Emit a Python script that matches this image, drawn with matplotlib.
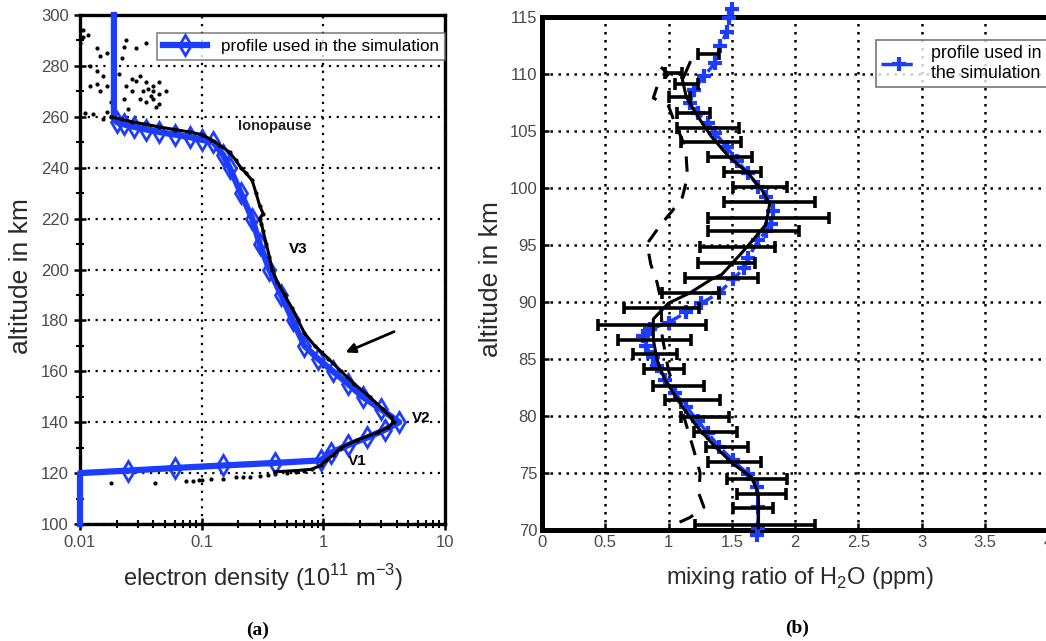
import matplotlib
matplotlib.use("Agg")
import matplotlib.pyplot as plt
import numpy as np

plt.rcParams["font.family"] = ["Liberation Sans", "DejaVu Sans"]
plt.rcParams["mathtext.fontset"] = "custom"
plt.rcParams["mathtext.rm"] = "Liberation Sans"

# ---- panel (a): electron density ----
# simulation profile (blue)
ne_alt = [100, 120, 121, 122, 123, 124, 125, 128, 131, 134, 137, 140, 145, 150, 155, 160,
          165, 170, 180, 190, 200, 210, 220, 230, 240, 245, 250, 251, 252, 253, 254, 255,
          256, 257, 258, 260, 300]
ne_prof = [0.01, 0.01, 0.025, 0.06, 0.15, 0.4, 0.95, 1.15, 1.6, 2.3, 3.2, 4.2, 3.0, 2.1, 1.6, 1.2,
           0.9, 0.7, 0.56, 0.45, 0.36, 0.3, 0.26, 0.21, 0.17, 0.15, 0.125, 0.1, 0.08, 0.06, 0.045, 0.035,
           0.028, 0.023, 0.02, 0.019, 0.019]

# measured profile (black)
meas_alt = [120.5, 121, 121.5, 123, 125, 127, 130, 133, 136, 138, 140, 142, 145, 150, 155, 160,
            165, 170, 175, 180, 185, 190, 195, 200, 205, 210, 215, 218, 220, 222, 225, 230,
            235, 238, 240, 243, 246, 249, 251, 253, 254, 255, 256, 257, 258, 259, 260]
meas_ne = [0.4, 0.6, 0.8, 0.95, 1.05, 1.2, 1.4, 1.9, 2.8, 3.4, 3.8, 3.6, 3.1, 2.4, 1.8, 1.4,
           1.1, 0.85, 0.7, 0.62, 0.55, 0.48, 0.42, 0.38, 0.36, 0.34, 0.32, 0.31, 0.3, 0.32, 0.3, 0.28,
           0.26, 0.23, 0.21, 0.19, 0.17, 0.14, 0.12, 0.1, 0.08, 0.06, 0.045, 0.035, 0.027, 0.022, 0.018]

low_alt = [116, 116.2, 117, 117, 117.2, 117.3, 117.5, 117.8, 118.3, 118.4, 118.5, 119, 119.3,
           119.6, 120, 120.3, 120.7]
low_ne = [0.018, 0.041, 0.075, 0.085, 0.095, 0.1, 0.12, 0.15, 0.19, 0.22, 0.25, 0.3, 0.35,
          0.4, 0.5, 0.6, 0.7]

top_alt = [291.5, 292, 289, 287, 284, 285, 287.5, 290, 289, 287, 278, 272, 273, 276, 272, 270,
           275, 276, 273.5, 272, 273.5, 272, 270, 270, 270, 269, 270, 267, 266, 267, 265, 267,
           261.5, 261, 259, 262, 280, 294, 283, 266, 268, 271, 274, 277, 264, 263]
top_ne = [0.0106, 0.0116, 0.0100, 0.0137, 0.0146, 0.0166, 0.023, 0.024, 0.035, 0.029, 0.0137, 0.012,
          0.0137, 0.0155, 0.0166, 0.0146, 0.027, 0.031, 0.035, 0.040, 0.045, 0.024, 0.027, 0.033,
          0.040, 0.045, 0.051, 0.031, 0.035, 0.040, 0.045, 0.023, 0.011, 0.0128, 0.0155, 0.0166,
          0.012, 0.0105, 0.022, 0.018, 0.038, 0.036, 0.029, 0.021, 0.042, 0.025]

# ---- panel (b): H2O mixing ratio ----
sim_alt = [115.7, 114.9, 113.7, 112.5, 111, 109.8, 108.6, 107.5, 106.6, 105.7, 104.8, 103.6, 102.4,
           101.3, 100.1, 99.2, 98, 96.8, 96.2, 95.4, 93.9, 93, 92, 90.8, 89.9, 89.1, 88.2, 87.6, 87,
           86.1, 85.2, 84.4, 83.2, 82, 80.8, 79.6, 78.5, 77.3, 76.1, 74.9, 73.8, 72, 70.2, 69.6]
sim_h2o = [1.50, 1.48, 1.46, 1.41, 1.37, 1.28, 1.20, 1.17, 1.23, 1.31, 1.37, 1.46, 1.54,
           1.63, 1.71, 1.77, 1.83, 1.81, 1.77, 1.71, 1.63, 1.60, 1.51, 1.40, 1.26, 1.14, 1.0, 0.85, 0.80,
           0.82, 0.88, 0.91, 0.97, 1.05, 1.14, 1.23, 1.31, 1.40, 1.51, 1.63, 1.70, 1.71, 1.71, 1.70]

mean_alt = [111, 109.5, 108, 106.3, 104.5, 102.7, 101.3, 99.8, 98.6, 96.8, 95.6, 94.2, 92.4, 92,
            90.8, 89.9, 88.5, 86.7, 84.9, 83.2, 80.8, 79, 77.3, 75.8, 74.6, 73.2, 70.2]
mean_h2o = [1.17, 1.11, 1.14, 1.23, 1.34, 1.48, 1.63, 1.74, 1.80, 1.77, 1.68, 1.57, 1.42, 1.34,
            1.17, 1.00, 0.88, 0.88, 0.91, 0.97, 1.11, 1.23, 1.37, 1.51, 1.66, 1.71, 1.71]

dash_alt = [110.6, 110, 108.9, 107.9, 107.2, 105.7, 104.2, 102.7, 101, 99.2, 98, 96.8, 95.1, 93.3,
            91.7, 90.2, 87, 84, 80, 77, 75, 73.2, 72, 71.1, 70.5, 70.2]
dash_h2o = [0.94, 1.0, 0.91, 0.88, 1.0, 1.05, 1.11, 1.14, 1.15, 1.11, 1.03, 0.94, 0.83, 0.86,
            0.91, 0.94, 0.95, 1.0, 1.12, 1.2, 1.25, 1.24, 1.28, 1.17, 1.05, 1.0]

bar_alt = [111.75, 110.1, 109.1, 108, 106.6, 105.3, 104, 102.7, 101.4, 100.1, 98.8, 97.4, 96.2,
           94.8, 93.4, 92.1, 90.8, 89.5, 88.0, 86.7, 85.4, 84.1, 82.6, 81.4, 79.9, 78.6, 77.3,
           76.0, 74.5, 73.2, 71.9, 70.4]
bar_lo = [1.23, 0.97, 1.05, 1.0, 1.07, 1.07, 1.10, 1.31, 1.44, 1.51, 1.44, 1.31, 1.31,
          1.25, 1.23, 1.13, 0.95, 0.65, 0.44, 0.60, 0.72, 0.81, 0.88, 0.97, 1.10, 1.20, 1.30,
          1.31, 1.46, 1.54, 1.51, 1.21]
bar_hi = [1.40, 1.11, 1.23, 1.17, 1.33, 1.56, 1.57, 1.66, 1.73, 1.94, 2.16, 2.27, 2.03,
          1.84, 1.68, 1.71, 1.40, 1.24, 1.30, 1.18, 1.07, 1.12, 1.28, 1.41, 1.48, 1.54, 1.63,
          1.73, 1.94, 1.93, 1.83, 2.16]

blue = "#1c3cff"
tick_gray = "#4a4a4a"
label_gray = "#2a2a2a"

fig = plt.figure(figsize=(10.46, 6.41), dpi=100)

# ---------------- (a) ----------------
ax1 = fig.add_axes([80 / 1046, 1 - 524 / 641, 365 / 1046, 509 / 641])
ax1.set_xscale("log")
ax1.set_xlim(0.01, 10)
ax1.set_ylim(100, 300)

ax1.plot(low_ne, low_alt, "k.", ms=4, zorder=3)
ax1.plot(top_ne, top_alt, "k.", ms=4, zorder=3)
ax1.plot(ne_prof, ne_alt, "-", color=blue, lw=4.5, marker="d", ms=10, mew=2, mfc="none",
         markevery=list(range(2, 35)), zorder=4, clip_on=False,
         label="profile used in the simulation")
ax1.plot(meas_ne, meas_alt, "k.-", lw=2.2, ms=4, zorder=5)

ax1.set_xticks([0.01, 0.1, 1, 10])
ax1.set_xticklabels(["0.01", "0.1", "1", "10"])
ax1.set_yticks(np.arange(100, 301, 20))
ax1.set_yticks(np.arange(110, 300, 20), minor=True)
ax1.tick_params(axis="both", which="major", direction="inout", length=9, width=1.8,
                labelsize=12, labelcolor=tick_gray, top=False, right=False)
ax1.tick_params(axis="both", which="minor", direction="inout", length=6, width=1.5,
                top=False, right=False)
ax1.grid(True, which="major", color="k", linestyle=(0, (1, 2.5)), lw=1.6)
for s in ax1.spines.values():
    s.set_linewidth(2.4)

ax1.text(0.4, 256.5, "Ionopause", fontsize=10.5, fontweight="bold", ha="center", va="center",
         color="#222222")
ax1.text(0.62, 208, "V3", fontsize=11, fontweight="bold", ha="center", va="center")
ax1.text(6.4, 141.5, "V2", fontsize=11, fontweight="bold", ha="center", va="center")
ax1.text(1.9, 124.8, "V1", fontsize=11, fontweight="bold", ha="center", va="center")
ax1.annotate("", xy=(1.45, 167), xytext=(4.0, 176),
             arrowprops=dict(arrowstyle="-|>", color="k", lw=2, mutation_scale=14))

leg1 = ax1.legend(loc="upper right", fontsize=12.3, frameon=True, fancybox=False,
                  edgecolor="#666666", borderpad=0.35, handlelength=2.6, borderaxespad=0,
                  bbox_to_anchor=(1.0, 0.965))
leg1.get_frame().set_linewidth(1.2)

ax1.set_ylabel("altitude in km", fontsize=19, color=label_gray)
ax1.yaxis.set_label_coords(-0.128, 0.487)
fig.text(263 / 1046, 1 - 578 / 641, r"electron density (10$^{11}$ m$^{-3}$)", fontsize=17,
         color=label_gray, ha="center", va="center")

# ---------------- (b) ----------------
ax2 = fig.add_axes([542 / 1046, 1 - 530 / 641, 506 / 1046, 513 / 641])
ax2.set_xlim(0, 4)
ax2.set_ylim(70, 115)

ax2.plot(dash_h2o, dash_alt, "k--", lw=2.2, dashes=(5, 4), zorder=2)
ax2.plot(sim_h2o, sim_alt, "--", color=blue, lw=2.5, marker="+", ms=10, mew=3,
         zorder=3, clip_on=False, label="profile used in\nthe simulation")
ax2.plot(mean_h2o, mean_alt, "k-", lw=2.2, zorder=4)
bar_c = [(a + b) / 2 for a, b in zip(bar_lo, bar_hi)]
bar_e = [(b - a) / 2 for a, b in zip(bar_lo, bar_hi)]
ax2.errorbar(bar_c, bar_alt, xerr=bar_e, fmt="none", ecolor="k", elinewidth=2.6,
             capsize=4.5, capthick=2.6, zorder=5)

ax2.set_xticks(np.arange(0, 4.01, 0.5))
ax2.set_xticklabels(["0", "0.5", "1", "1.5", "2", "2.5", "3", "3.5", "4"])
ax2.set_yticks(np.arange(70, 116, 5))
ax2.tick_params(axis="both", direction="in", length=5, width=1.8, labelsize=12,
                labelcolor=tick_gray, top=False, right=False)
ax2.grid(True, color="k", linestyle=(0, (1, 2.2)), lw=1.8)
for s in ax2.spines.values():
    s.set_linewidth(3.6)

leg2 = ax2.legend(loc="upper right", fontsize=12.8, frameon=True, fancybox=False,
                  edgecolor="#555555", borderpad=0.3, handlelength=2.0, labelspacing=0.1,
                  borderaxespad=0, bbox_to_anchor=(0.998, 0.955))
leg2.get_frame().set_linewidth(1.2)

ax2.set_ylabel("altitude in km", fontsize=19, color=label_gray)
ax2.yaxis.set_label_coords(-0.077, 0.49)
fig.text(800 / 1046, 1 - 578 / 641, r"mixing ratio of H$_2$O (ppm)", fontsize=17,
         color=label_gray, ha="center", va="center")

fig.text(258 / 1046, 1 - 630 / 641, "(a)", fontsize=14, fontweight="bold",
         family=["Liberation Serif", "DejaVu Serif"], ha="center", va="center")
fig.text(797 / 1046, 1 - 628 / 641, "(b)", fontsize=14, fontweight="bold",
         family=["Liberation Serif", "DejaVu Serif"], ha="center", va="center")

fig.savefig("out.png", dpi=100)
